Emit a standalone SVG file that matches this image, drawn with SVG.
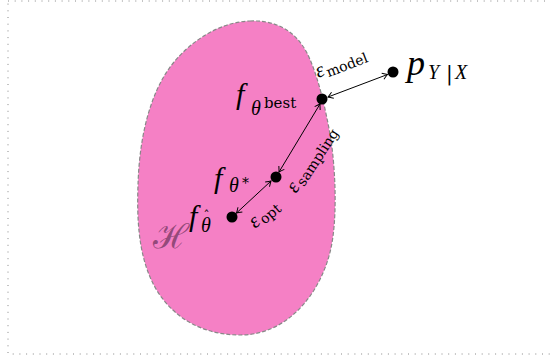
<svg xmlns="http://www.w3.org/2000/svg" width="550" height="360" viewBox="0 0 550 360">
<style>
.m{font-family:"Liberation Serif","DejaVu Serif",serif;font-style:italic;fill:#000}
.r{font-family:"DejaVu Serif","Liberation Serif",serif;font-style:normal;fill:#000}
.conn line{stroke:#000;stroke-width:1;marker-start:url(#ah);marker-end:url(#ah)}
.dot{fill:#000}
</style>
<defs>
<marker id="ah" viewBox="-6 -4 7 8" markerWidth="7" markerHeight="8" refX="0" refY="0" orient="auto-start-reverse" markerUnits="userSpaceOnUse">
<path d="M-5,-3.2 Q-1.5,-0.8 0,0 Q-1.5,0.8 -5,3.2" fill="none" stroke="#000" stroke-width="1"/>
</marker>
</defs>
<rect x="8" y="1" width="560" height="353" fill="none" stroke="#888" stroke-width="1" stroke-dasharray="1 5.7"/>
<g id="H">
<path d="M250,21 C275,20 295,30 307,53 C318,75 326,110 331,140 C336,175 337,220 331,248 C322,290 290,335 240,335 C195,335 162,310 148,272 C138,245 137,215 138,185 C139,150 145,110 163,78 C180,48 215,22 250,21 Z" fill="#f580c5" stroke="#888" stroke-width="1.2" stroke-dasharray="4 2"/>
<text x="153" y="248" style="font-family:'DejaVu Serif','Noto Sans',serif;font-style:italic;font-size:34px;fill:#7a3a66;fill-opacity:0.8">ℋ</text>
</g>
<g class="conn">
<line x1="236.5" y1="213" x2="271" y2="181"/>
<line x1="279" y1="172" x2="320" y2="104"/>
<line x1="328" y1="97" x2="387.5" y2="74.5"/>
</g>
<g id="fhat">
<circle class="dot" cx="232" cy="217" r="5.5"/>
<text class="m"><tspan x="189" y="226" font-size="30">f</tspan><tspan x="201" y="232" font-size="20">θ</tspan><tspan class="r" x="203.5" y="220" font-size="12">ˆ</tspan></text>
</g>
<g id="fstar">
<circle class="dot" cx="276" cy="177" r="5.5"/>
<text class="m"><tspan x="214" y="188" font-size="30">f</tspan><tspan x="229" y="192" font-size="20">θ</tspan><tspan class="r" x="242" y="188" font-size="14">*</tspan></text>
</g>
<g id="fbest">
<circle class="dot" cx="322" cy="99" r="5.5"/>
<text class="m"><tspan x="236" y="104" font-size="30">f</tspan><tspan x="251" y="114.5" font-size="20">θ</tspan><tspan class="r" x="264" y="108" font-size="15">best</tspan></text>
</g>
<g id="p">
<circle class="dot" cx="393" cy="72" r="5.5"/>
<text class="m"><tspan x="407" y="75" font-size="36">p</tspan><tspan x="428" y="79" font-size="20">Y</tspan><tspan class="r" x="446" y="80" font-size="20">|</tspan><tspan x="455" y="79" font-size="20">X</tspan></text>
</g>
<g id="labels">
<text transform="rotate(-21 318 78)"><tspan class="m" x="318" y="78" font-size="21">ε</tspan><tspan class="r" x="328" y="81" font-size="14">model</tspan></text>
<text transform="rotate(-57 296 194)"><tspan class="m" x="296" y="194" font-size="21">ε</tspan><tspan class="r" x="306" y="197" font-size="14">sampling</tspan></text>
<text transform="rotate(-40 255 229)"><tspan class="m" x="255" y="229" font-size="21">ε</tspan><tspan class="r" x="265" y="232" font-size="14">opt</tspan></text>
</g>
</svg>
